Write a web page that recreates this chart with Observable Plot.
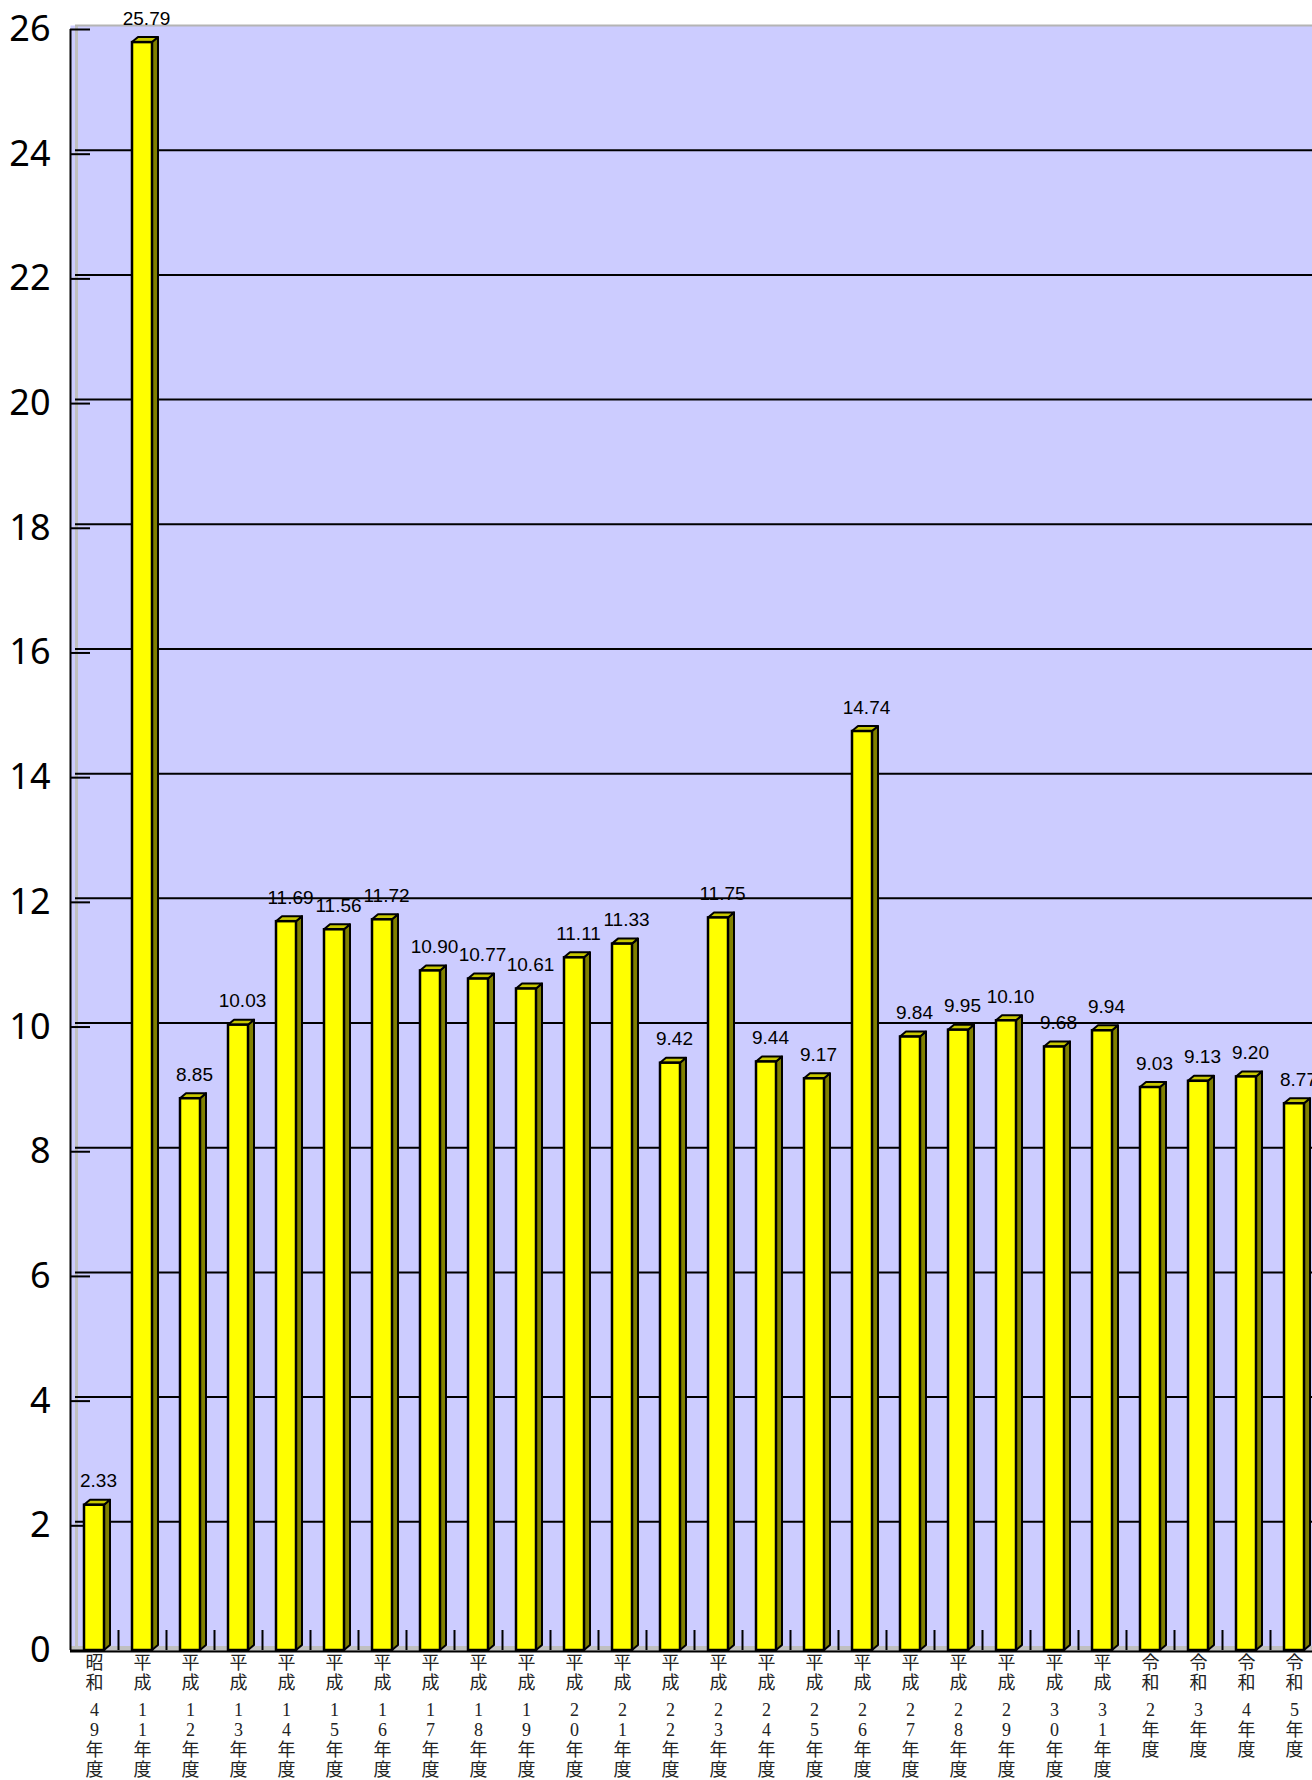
<!DOCTYPE html>
<html><head><meta charset="utf-8">
<script src="https://cdn.jsdelivr.net/npm/d3@7"></script>
<script src="https://cdn.jsdelivr.net/npm/@observablehq/plot@0.6"></script>
<style>html,body{margin:0;padding:0;background:#fff;overflow:hidden}</style>
</head><body><div id="chart"></div>
<script>
const eras = ["昭和","平成","平成","平成","平成","平成","平成","平成","平成","平成","平成","平成","平成","平成","平成","平成","平成","平成","平成","平成","平成","平成","令和","令和","令和","令和"];
const years = ["49","11","12","13","14","15","16","17","18","19","20","21","22","23","24","25","26","27","28","29","30","31","2","3","4","5"];
const values = [2.33,25.79,8.85,10.03,11.69,11.56,11.72,10.90,10.77,10.61,11.11,11.33,9.42,11.75,9.44,9.17,14.74,9.84,9.95,10.10,9.68,9.94,9.03,9.13,9.20,8.77];
const yTicks = d3.range(0, 27, 2);
const gridTicks = d3.range(2, 26, 2);

const W = 1312, H = 1780;
const X0 = 70, X1 = 1318, Y0 = 1650, Y1 = 29;
const n = values.length;
const ux = n / (X1 - X0);      // data units per pixel (x)
const uy = 26 / (Y0 - Y1);     // data units per pixel (y)
const half = 10 * ux, dX = 6 * ux, dY = 5 * uy;

const rows = values.map((v, i) => ({i, v, era: eras[i], yr: years[i], c: i + 0.5}));
const sideFaces = rows.flatMap(d => [
  {i: d.i, x: d.c + half, y1: 0, y2: d.v},
  {i: d.i, x: d.c + half + dX, y1: dY, y2: d.v + dY}
]);
const topFaces = rows.flatMap(d => [
  {i: d.i, y: d.v, x1: d.c - half, x2: d.c + half},
  {i: d.i, y: d.v + dY, x1: d.c - half + dX, x2: d.c + half + dX}
]);

const serif = "'Liberation Serif', 'Noto Sans CJK JP', serif";

const chart = Plot.plot({
  width: W, height: H,
  marginLeft: X0, marginRight: 0, marginTop: 25, marginBottom: H - Y0,
  style: {background: "white", overflow: "hidden"},
  x: {type: "linear", domain: [0, n], range: [X0, X1], axis: null},
  y: {domain: [0, 26], range: [Y0, Y1], axis: null},
  marks: [
    Plot.frame({fill: "#ccccff", stroke: null}),
    Plot.ruleY([0], {dy: -2, stroke: "#c0c0c0", strokeWidth: 5}),
    Plot.ruleX([0], {y1: 0, y2: 26, dx: 6, dy: -4, stroke: "#c0c0c0", strokeWidth: 3}),
    Plot.ruleY([26], {x1: 5 * ux, x2: n + 1, dy: -4, stroke: "#b4b4b4", strokeWidth: 2}),
    Plot.ruleY(gridTicks, {x1: 5 * ux, x2: n + 1, dy: -4, stroke: "black", strokeWidth: 2}),
    Plot.ruleX([0], {y1: 0, y2: 26, stroke: "black", strokeWidth: 2}),
    Plot.ruleY([0], {x1: 0, x2: n + 1, dy: 1, stroke: "black", strokeWidth: 2}),
    Plot.ruleY(yTicks, {x1: 0, x2: 20 * ux, stroke: "black", strokeWidth: 2}),
    Plot.ruleX(d3.range(1, n + 1), {y1: 0, y2: 20 * uy, stroke: "black", strokeWidth: 2}),
    Plot.areaY(sideFaces, {x: "x", y1: "y1", y2: "y2", z: "i", fill: "#808000", stroke: "black", strokeWidth: 2}),
    Plot.areaX(topFaces, {y: "y", x1: "x1", x2: "x2", z: "i", fill: "#c8c800", stroke: "black", strokeWidth: 2}),
    Plot.rect(rows, {x1: d => d.c - half, x2: d => d.c + half, y1: 0, y2: "v", fill: "#ffff00", stroke: "black", strokeWidth: 2.5}),
    Plot.text(rows, {x: "c", y: "v", text: d => d.v.toFixed(2), dx: 4, dy: -24, fontSize: 19, fontFamily: "'Liberation Sans', Arial, sans-serif", fill: "black"}),
    Plot.text(yTicks, {x: 0, y: d => d, text: d => String(d), textAnchor: "end", dx: -20, fontSize: 36, fontFamily: "'Noto Sans', sans-serif", fill: "black"}),
    Plot.text(rows, {x: "c", y: 0, text: d => d.era.split("").join("\n"), lineAnchor: "top", dy: 4, lineHeight: 1.11, fontSize: 18, fontFamily: serif, fill: "#222"}),
    Plot.text(rows, {x: "c", y: 0, text: d => [...d.yr.split(""), "年", "度"].join("\n"), lineAnchor: "top", dy: 51, lineHeight: 1.11, fontSize: 18, fontFamily: serif, fill: "#222"})
  ]
});
document.getElementById("chart").appendChild(chart);
</script>
</body></html>
